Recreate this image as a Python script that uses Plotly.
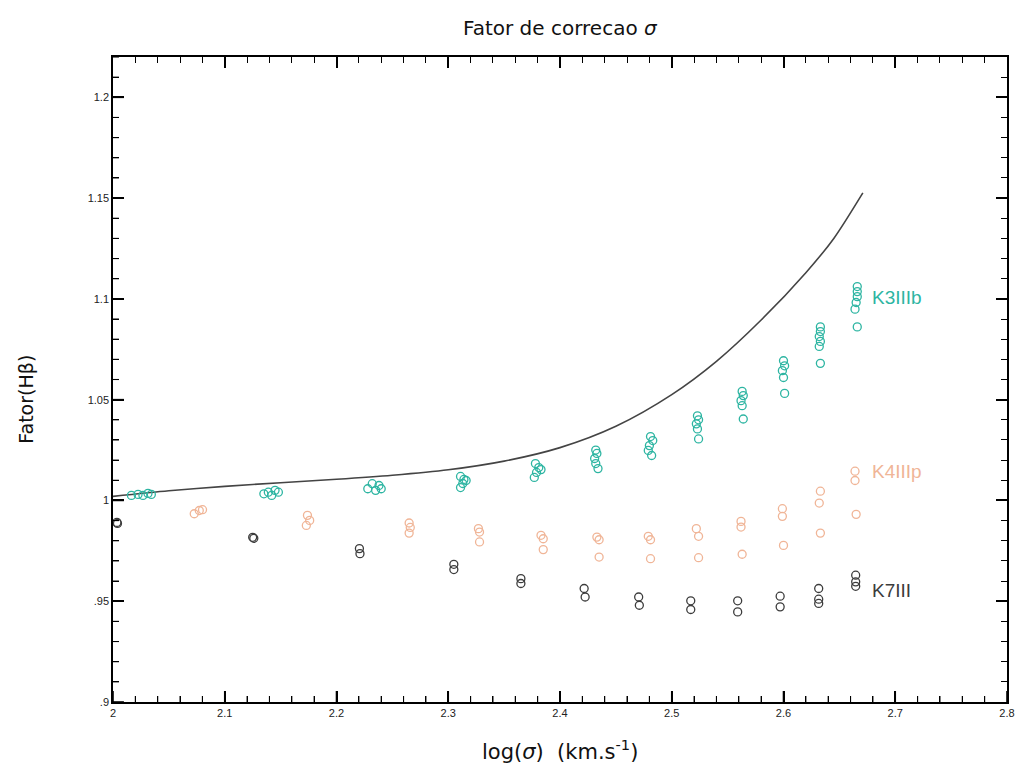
import plotly.graph_objects as go

# ---------------- data ----------------
k3_x = [2.0165, 2.0224, 2.0268, 2.0313, 2.0343,
        2.135, 2.139, 2.142, 2.145, 2.148,
        2.228, 2.232, 2.235, 2.238, 2.240,
        2.311, 2.314, 2.313, 2.311, 2.316,
        2.378, 2.381, 2.379, 2.377, 2.383,
        2.432, 2.433, 2.431, 2.432, 2.434,
        2.481, 2.483, 2.480, 2.479, 2.482,
        2.523, 2.524, 2.522, 2.523, 2.524,
        2.563, 2.564, 2.562, 2.563, 2.564,
        2.600, 2.601, 2.599, 2.600, 2.601,
        2.633, 2.633, 2.632, 2.633, 2.632, 2.633,
        2.666, 2.666, 2.666, 2.665, 2.664, 2.666]
k3_y = [1.0025, 1.0030, 1.0025, 1.0035, 1.0030,
        1.0033, 1.0041, 1.0025, 1.0050, 1.0041,
        1.0058, 1.0083, 1.0050, 1.0074, 1.0058,
        1.0119, 1.0104, 1.0084, 1.0064, 1.0099,
        1.0183, 1.0163, 1.0139, 1.0114, 1.0153,
        1.0250, 1.0233, 1.0208, 1.0183, 1.0158,
        1.0317, 1.0297, 1.0272, 1.0248, 1.0223,
        1.0420, 1.0400, 1.0380, 1.0355, 1.0305,
        1.0541, 1.0520, 1.0495, 1.0470, 1.0404,
        1.0693, 1.0668, 1.0644, 1.0610, 1.0531,
        1.0861, 1.0838, 1.0813, 1.0789, 1.0764, 1.0680,
        1.1061, 1.1036, 1.1011, 1.0982, 1.0949, 1.0861]

k4_x = [2.0727, 2.0772, 2.0801,
        2.174, 2.176, 2.173,
        2.265, 2.266, 2.265,
        2.327, 2.328, 2.328,
        2.383, 2.385, 2.385,
        2.433, 2.435, 2.435,
        2.479, 2.481, 2.481,
        2.522, 2.524, 2.524,
        2.562, 2.562, 2.563,
        2.599, 2.599, 2.600,
        2.633, 2.632, 2.633,
        2.664, 2.664, 2.665]
k4_y = [0.9934, 0.9950, 0.9954,
        0.9926, 0.9901, 0.9876,
        0.9888, 0.9866, 0.9838,
        0.9860, 0.9843, 0.9794,
        0.9827, 0.9810, 0.9756,
        0.9818, 0.9805, 0.9719,
        0.9822, 0.9805, 0.9711,
        0.9860, 0.9822, 0.9716,
        0.9896, 0.9868, 0.9733,
        0.9959, 0.9921, 0.9777,
        1.0046, 0.9987, 0.9838,
        1.0145, 1.0099, 0.9931]

k7_x = [2.0035, 2.0040,
        2.125, 2.126,
        2.2205, 2.221,
        2.305, 2.305,
        2.365, 2.365,
        2.4216, 2.4225,
        2.4704, 2.471,
        2.517, 2.517,
        2.559, 2.559,
        2.597, 2.597,
        2.6315, 2.6315, 2.6315,
        2.6646, 2.6646, 2.6646]
k7_y = [0.9891, 0.9886,
        0.9817, 0.9812,
        0.9761, 0.9736,
        0.9683, 0.9657,
        0.9612, 0.9588,
        0.9563, 0.9521,
        0.9521, 0.9480,
        0.9502, 0.9459,
        0.9502, 0.9447,
        0.9525, 0.9472,
        0.9563, 0.9510, 0.9489,
        0.9629, 0.9596, 0.9574]

curve_x = [2.0, 2.05, 2.1, 2.15, 2.2, 2.25, 2.3, 2.35, 2.4, 2.45, 2.5,
           2.54, 2.58, 2.62, 2.645, 2.671]
curve_y = [1.0020, 1.0048, 1.0070, 1.0088, 1.0105, 1.0125, 1.0152, 1.0195,
           1.0262, 1.0368, 1.0525, 1.0690, 1.0895, 1.1130, 1.1300, 1.1526]

# default tick strings -> printed tick labels
y_tick_default = ["0.9", "0.95"]
y_tick_text = [".9", ".95"]
x_range = [2.0, 2.8]
y_range = [0.9, 1.22]
x_major, x_minor = 0.1, 0.02
y_major, y_minor = 0.05, 0.01

series_labels = ["K3IIIb", "K4IIIp", "K7III"]
label_pos_y = [1.1005, 1.0144, 0.9552]

# ---------------- style ----------------
C_TEAL = "#2db5a2"
C_SALMON = "#f0b597"
C_DARK = "#3c3c3c"
FONT = "DejaVu Sans"
W, H = 1023, 771
M = dict(l=113, r=8, t=57, b=69)

fig = go.Figure()
fig.add_trace(go.Scatter(x=curve_x, y=curve_y, mode="lines",
                         line=dict(color="#444444", width=1.6, shape="spline", smoothing=0.8),
                         showlegend=False, hoverinfo="skip"))
for xs, ys, col in [(k4_x, k4_y, C_SALMON), (k7_x, k7_y, C_DARK), (k3_x, k3_y, C_TEAL)]:
    fig.add_trace(go.Scatter(x=xs, y=ys, mode="markers",
                             marker=dict(symbol="circle-open", size=8, color=col,
                                         line=dict(width=1.3, color=col)),
                             showlegend=False))

for lab, ly, col in zip(series_labels, label_pos_y, [C_TEAL, C_SALMON, C_DARK]):
    fig.add_annotation(x=2.677, y=ly, text=lab, showarrow=False, xanchor="left",
                       yanchor="middle", font=dict(family="Liberation Sans", size=19, color=col))

tfont = dict(family="Liberation Sans", size=11, color="#222")

fig.update_xaxes(range=x_range, dtick=x_major,
                 ticks="inside", ticklen=11, tickwidth=2, tickcolor="black",
                 showline=True, linecolor="black", linewidth=1.5, mirror="allticks",
                 gridcolor="white", tickfont=tfont,
                 minor=dict(ticks="inside", ticklen=6, tickwidth=1, tickcolor="black",
                            dtick=x_minor))
fig.update_yaxes(range=y_range, dtick=y_major,
                 labelalias=dict(zip(y_tick_default, y_tick_text)),
                 ticks="inside", ticklen=11, tickwidth=2, tickcolor="black",
                 showline=True, linecolor="black", linewidth=1.5, mirror="allticks",
                 gridcolor="white", tickfont=tfont,
                 minor=dict(ticks="inside", ticklen=6, tickwidth=1, tickcolor="black",
                            dtick=y_minor))

# inside ticks along the bottom and left frame edges (drawn as axis decoration)
px_per_x = (W - M["l"] - M["r"]) / (x_range[1] - x_range[0])
px_per_y = (H - M["t"] - M["b"]) / (y_range[1] - y_range[0])
n_x = int(round((x_range[1] - x_range[0]) / x_minor))
for i in range(n_x + 1):
    v = x_range[0] + i * x_minor
    major = i % int(round(x_major / x_minor)) == 0
    ln = (11 if major else 6) / px_per_y
    fig.add_shape(type="line", xref="x", yref="y", x0=v, x1=v,
                  y0=y_range[0], y1=y_range[0] + ln, layer="above",
                  line=dict(color="black", width=1.6 if major else 1.1))
n_y = int(round((y_range[1] - y_range[0]) / y_minor))
for i in range(n_y + 1):
    v = y_range[0] + i * y_minor
    major = i % int(round(y_major / y_minor)) == 0
    ln = (11 if major else 6) / px_per_x
    fig.add_shape(type="line", xref="x", yref="y", y0=v, y1=v,
                  x0=x_range[0], x1=x_range[0] + ln, layer="above",
                  line=dict(color="black", width=1.6 if major else 1.1))

fig.add_annotation(xref="paper", yref="paper", x=0.5, y=1.0, yshift=15, yanchor="bottom",
                   text="Fator de correcao <i>σ</i>", showarrow=False,
                   font=dict(family=FONT, size=20, color="#111"))
fig.add_annotation(xref="paper", yref="paper", x=0.5, y=0.0, yshift=-32, yanchor="top",
                   text="log(<i>σ</i>)  (km.s<sup>-1</sup>)", showarrow=False,
                   font=dict(family=FONT, size=21, color="#111"))
fig.add_annotation(xref="paper", y=1.05, x=0.0, xshift=-100, yref="y",
                   text="Fator(Hβ)", showarrow=False, textangle=-90,
                   font=dict(family=FONT, size=19, color="#111"))

fig.update_layout(width=W, height=H, plot_bgcolor="white",
                  margin=M, showlegend=False)

fig.write_html("out.html")
